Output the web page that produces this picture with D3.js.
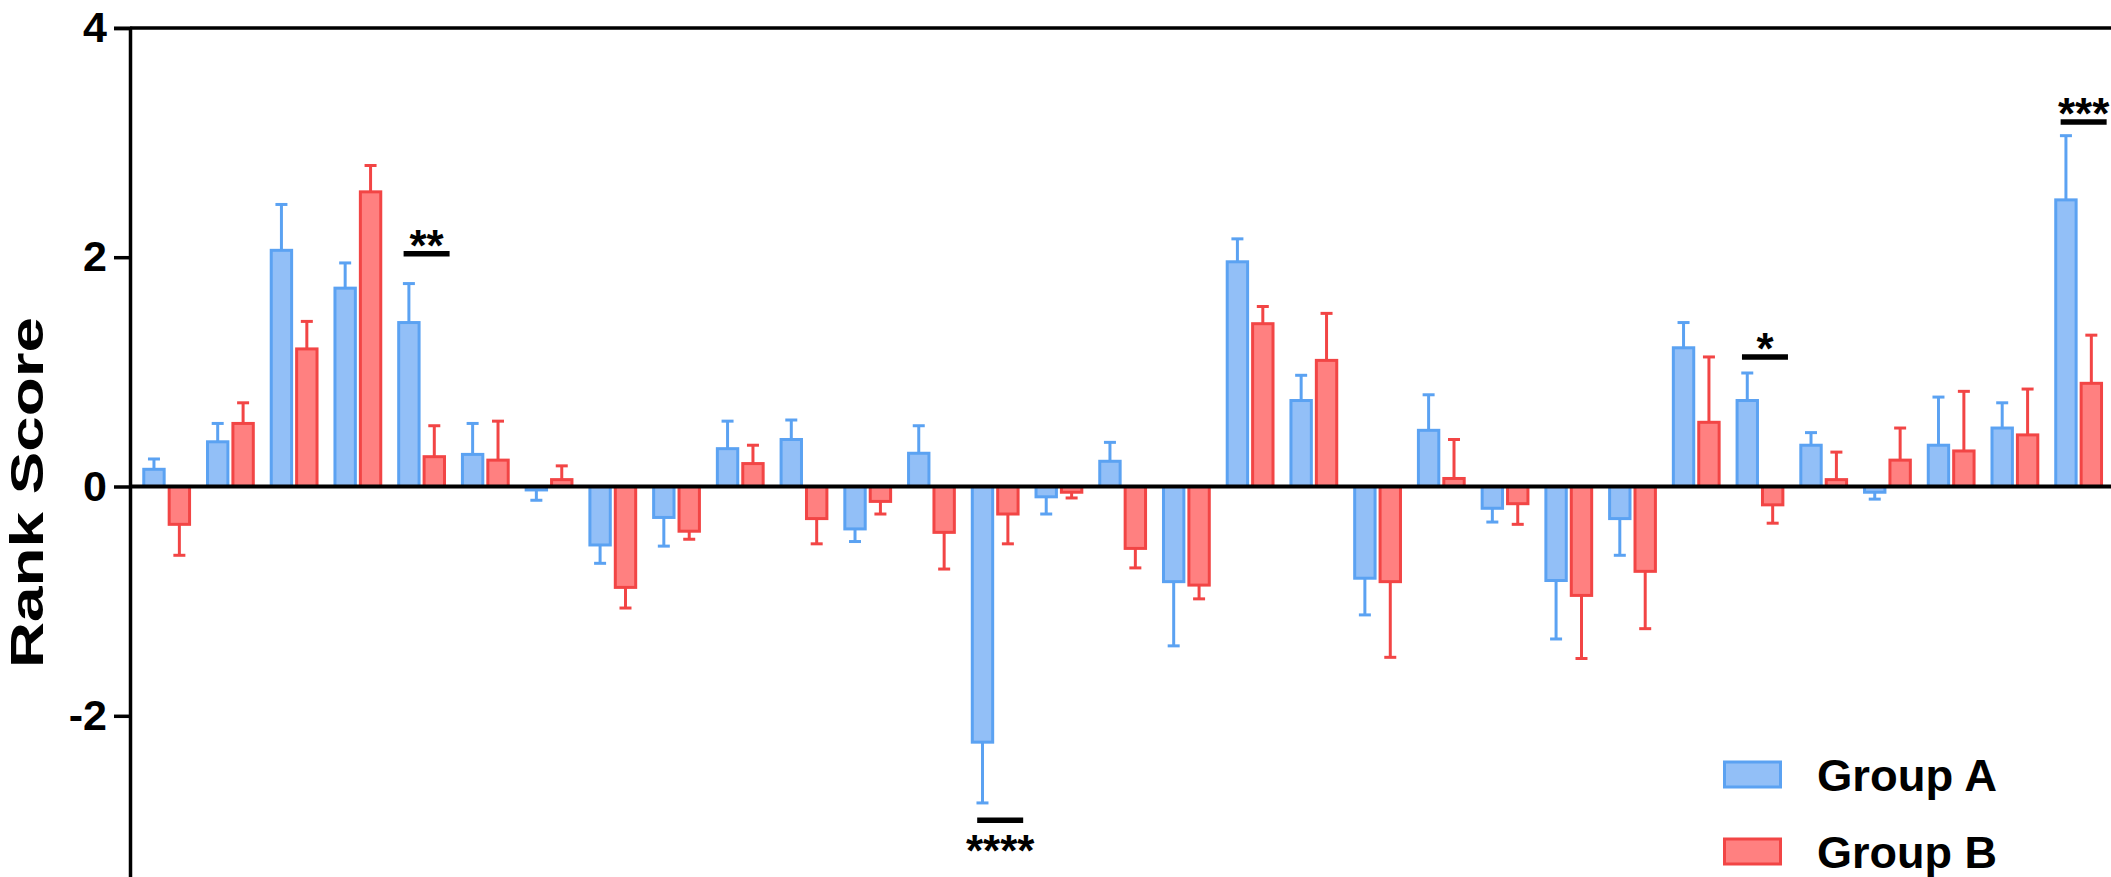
<!DOCTYPE html>
<html>
<head>
<meta charset="utf-8">
<script src="https://cdn.jsdelivr.net/npm/d3@7/dist/d3.min.js"></script>
<style>
  html, body { margin: 0; padding: 0; background: #fff; overflow: hidden; }
  svg { display: block; }
  text { font-family: "Liberation Sans", Arial, Helvetica, sans-serif; font-weight: bold; fill: #000; }
</style>
</head>
<body>
<svg id="chart" width="2111" height="877"></svg>
<script>
// ---------- data ----------
const categories = d3.range(1, 32).map(i => "C" + i);
const seriesNames = ["Group A", "Group B"];
const groupA = [0.15, 0.39, 2.06, 1.73, 1.43, 0.28, -0.03, -0.51, -0.27, 0.33, 0.41, -0.37, 0.29, -2.23, -0.09, 0.22, -0.83, 1.96, 0.75, -0.80, 0.49, -0.19, -0.82, -0.28, 1.21, 0.75, 0.36, -0.05, 0.36, 0.51, 2.50];
const errA   = [0.09, 0.16, 0.40, 0.22, 0.34, 0.27, 0.09, 0.16, 0.25, 0.24, 0.17, 0.11, 0.24, 0.53, 0.15, 0.165, 0.56, 0.20, 0.22, 0.32, 0.31, 0.12, 0.51, 0.32, 0.22, 0.24, 0.11, 0.06, 0.42, 0.22, 0.56];
const groupB = [-0.33, 0.55, 1.20, 2.57, 0.26, 0.23, 0.06, -0.88, -0.39, 0.20, -0.28, -0.13, -0.40, -0.24, -0.05, -0.54, -0.86, 1.42, 1.10, -0.83, 0.07, -0.15, -0.95, -0.74, 0.56, -0.16, 0.06, 0.23, 0.31, 0.45, 0.90];
const errB   = [0.27, 0.18, 0.24, 0.23, 0.27, 0.34, 0.12, 0.18, 0.07, 0.16, 0.22, 0.11, 0.32, 0.26, 0.05, 0.17, 0.12, 0.15, 0.41, 0.66, 0.34, 0.18, 0.55, 0.50, 0.57, 0.16, 0.24, 0.28, 0.52, 0.40, 0.42];
const yTicks = [-2, 0, 2, 4];
const yLabel = "Rank Score";
// significance annotations
const sigCategories = ["C5", "C14", "C26", "C31"];
const sigLabels = ["**", "****", "*", "***"];
const sigLevels = [2.03, -2.91, 1.13, 3.18];

// ---------- styles ----------
const fills = { "Group A": "#92BFF7", "Group B": "#FF8080" };
const strokes = { "Group A": "#5BA2F2", "Group B": "#F24545" };

// ---------- scales ----------
const svg = d3.select("#chart");
const axisX = 130;
const x0 = d3.scaleBand().domain(categories).range([134.8, 2110.5]).padding(0);
const step = x0.step();
const x1 = d3.scaleBand().domain(seriesNames)
  .range([step / 2 - 25.4, step / 2 + 25.4]).paddingInner(0.197).paddingOuter(0.0985);
const y = d3.scaleLinear().domain([-4, 4]).range([945.1, 27.9]);

const values = { "Group A": groupA, "Group B": groupB };
const errs = { "Group A": errA, "Group B": errB };
const rows = [];
categories.forEach((c, i) => {
  seriesNames.forEach(s => rows.push({ cat: c, series: s, v: values[s][i], e: errs[s][i] }));
});

// ---------- error bars (under bars) ----------
const eb = svg.append("g");
rows.forEach(d => {
  const cx = x0(d.cat) + x1(d.series) + x1.bandwidth() / 2;
  const end = d.v >= 0 ? d.v + d.e : d.v - d.e;
  eb.append("line").attr("x1", cx).attr("x2", cx).attr("y1", y(d.v)).attr("y2", y(end))
    .attr("stroke", strokes[d.series]).attr("stroke-width", 3);
  eb.append("line").attr("x1", cx - 6).attr("x2", cx + 6).attr("y1", y(end)).attr("y2", y(end))
    .attr("stroke", strokes[d.series]).attr("stroke-width", 3);
});

// ---------- bars ----------
svg.append("g").selectAll("rect").data(rows).join("rect")
  .attr("x", d => x0(d.cat) + x1(d.series))
  .attr("width", x1.bandwidth())
  .attr("y", d => y(Math.max(0, d.v)))
  .attr("height", d => Math.abs(y(d.v) - y(0)))
  .attr("fill", d => fills[d.series])
  .attr("stroke", d => strokes[d.series])
  .attr("stroke-width", 3);

// ---------- axes ----------
svg.append("line").attr("x1", axisX).attr("x2", 2111).attr("y1", y(4)).attr("y2", y(4))
  .attr("stroke", "#000").attr("stroke-width", 3.5);
svg.append("line").attr("x1", axisX).attr("x2", 2111).attr("y1", y(0)).attr("y2", y(0))
  .attr("stroke", "#000").attr("stroke-width", 4);

const yAxis = d3.axisLeft(y).tickValues(yTicks).tickSize(16).tickPadding(7).tickFormat(d3.format("d"));
const gy = svg.append("g").attr("transform", `translate(${axisX},0)`).call(yAxis);
gy.select(".domain").attr("stroke", "#000").attr("stroke-width", 3.5);
gy.selectAll(".tick line").attr("stroke", "#000").attr("stroke-width", 3.5);
gy.selectAll(".tick text").attr("font-size", 43).attr("font-weight", "bold")
  .attr("font-family", "'Liberation Sans', Arial, sans-serif").attr("fill", "#000")
  .text(d => d < 0 ? "-" + Math.abs(d) : d);

svg.append("text")
  .attr("transform", `translate(43,492.5) rotate(-90)`)
  .attr("text-anchor", "middle")
  .attr("font-size", 46)
  .attr("textLength", 351).attr("lengthAdjust", "spacingAndGlyphs")
  .text(yLabel);

// ---------- significance marks ----------
sigCategories.forEach((c, i) => {
  const cx = x0(c) + step / 2 + 5;
  const ly = y(sigLevels[i]);
  svg.append("line").attr("x1", cx - 23).attr("x2", cx + 23).attr("y1", ly).attr("y2", ly)
    .attr("stroke", "#000").attr("stroke-width", 5.5);
  svg.append("text").attr("x", cx).attr("y", sigLevels[i] >= 0 ? ly + 7 : ly + 46)
    .attr("text-anchor", "middle").attr("font-size", 44).attr("font-weight", "normal")
    .text(sigLabels[i]);
});

// ---------- legend ----------
const legend = svg.append("g");
seriesNames.forEach((s, i) => {
  const ly = 762 + i * 77;
  legend.append("rect").attr("x", 1724.5).attr("y", ly).attr("width", 56).attr("height", 25)
    .attr("fill", fills[s]).attr("stroke", strokes[s]).attr("stroke-width", 3);
  legend.append("text").attr("x", 1817).attr("y", ly + 29).attr("font-size", 44)
    .attr("textLength", 180).attr("lengthAdjust", "spacingAndGlyphs").text(s);
});
</script>
</body>
</html>
